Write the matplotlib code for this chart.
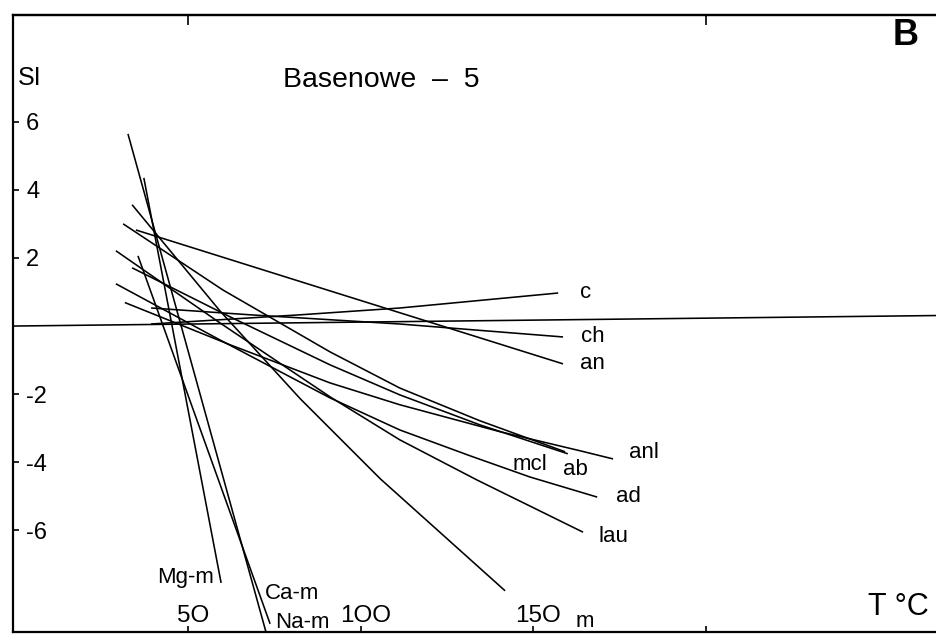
import matplotlib
matplotlib.use('Agg')
import matplotlib.pyplot as plt
from matplotlib.transforms import ScaledTranslation

plt.rcParams['font.family'] = ['Liberation Sans', 'DejaVu Sans']

# ---- data (T in °C, SI) ----
c_T = [39.3, 82.5, 111.4, 157.3]
c_SI = [0.06, 0.33, 0.53, 0.97]

ch_T = [39.3, 68.0, 111.4, 158.7]
ch_SI = [0.53, 0.33, 0.06, -0.32]

an_T = [34.9, 90.3, 158.7]
an_SI = [2.82, 1.06, -1.11]

m_T = [33.8, 59.3, 82.5, 105.7, 141.9]
m_SI = [3.56, 0.44, -2.13, -4.48, -7.77]

mcl_T = [31.2, 60.1, 91.2, 111.4, 134.6, 159.3]
mcl_SI = [3.00, 1.06, -0.76, -1.82, -2.78, -3.69]

ab_T = [33.8, 62.2, 91.2, 111.4, 134.6, 160.1]
ab_SI = [1.71, 0.27, -1.14, -2.02, -2.90, -3.75]

anl_T = [31.7, 62.2, 91.2, 111.4, 140.4, 163.6, 173.2]
anl_SI = [0.69, -0.55, -1.67, -2.31, -3.10, -3.66, -3.90]

ad_T = [29.1, 59.3, 91.2, 111.4, 131.8, 149.1, 168.6]
ad_SI = [1.24, -0.41, -2.11, -3.05, -3.81, -4.43, -5.02]

lau_T = [29.1, 59.3, 91.2, 111.4, 133.8, 164.5]
lau_SI = [2.21, 0.09, -2.08, -3.34, -4.52, -6.05]

mgm_T = [37.2, 59.6]
mgm_SI = [4.35, -7.54]

nam_T = [32.6, 72.6]
nam_SI = [5.64, -8.98]

cam_T = [35.5, 73.8]
cam_SI = [2.06, -8.74]

zero_T = [-1.0, 268.0]
zero_SI = [0.0, 0.31]

yticks = [6, 4, 2, -2, -4, -6]
ytick_labels = ['6', '4', '2', '-2', '-4', '-6']
xticks = [50, 100, 150, 200]
xtick_labels = ['5O', '1OO', '15O', '']

curves = [
    (c_T, c_SI), (ch_T, ch_SI), (an_T, an_SI), (m_T, m_SI),
    (mcl_T, mcl_SI), (ab_T, ab_SI), (anl_T, anl_SI), (ad_T, ad_SI),
    (lau_T, lau_SI), (mgm_T, mgm_SI), (nam_T, nam_SI), (cam_T, cam_SI),
    (zero_T, zero_SI),
]

# ---- figure ----
W, H = 936, 634
fig = plt.figure(figsize=(W / 100, H / 100), dpi=100)
ax = fig.add_axes([13 / W, 2 / H, 1 - 13 / W, (632 - 15) / H])
ax.set_xlim(-0.72, 266.8)
ax.set_ylim(-8.98, 9.13)

for t, s in curves:
    ax.plot(t, s, color='black', lw=1.15, solid_capstyle='butt',
            solid_joinstyle='round')

for sp in ['left', 'top', 'bottom']:
    ax.spines[sp].set_linewidth(1.6)
ax.spines['right'].set_visible(False)

ax.set_yticks(yticks)
ax.set_yticklabels(ytick_labels)
ax.tick_params(axis='y', direction='in', length=4, width=1.2, pad=-9.5,
               labelsize=17)
for lb in ax.get_yticklabels():
    lb.set_horizontalalignment('left')

ax.set_xticks(xticks)
ax.set_xticklabels(xtick_labels)
ax.tick_params(axis='x', direction='in', length=4, width=1.2, pad=-7.2,
               labelsize=17.5)
shift = ScaledTranslation(5 / 100, 0, fig.dpi_scale_trans)
for lb in ax.get_xticklabels():
    lb.set_verticalalignment('baseline')
    lb.set_transform(lb.get_transform() + shift)

sec = ax.secondary_xaxis('top')
sec.set_xticks([50, 200])
sec.tick_params(direction='in', length=7, width=1.2, labeltop=False)
sec.spines['top'].set_linewidth(1.6)

# ---- curve labels ----
fs = 16
labels = [
    ('c', 163.6, 0.83), ('ch', 163.9, -0.46), ('an', 163.6, -1.26),
    ('anl', 177.8, -3.87), ('mcl', 144.2, -4.23), ('ab', 158.7, -4.38),
    ('ad', 174.1, -5.17), ('lau', 169.1, -6.33), ('m', 162.2, -8.83),
    ('Mg-m', 41.0, -7.54), ('Ca-m', 72.3, -8.0), ('Na-m', 75.2, -8.86),
]
for txt, x, y in labels:
    ax.text(x, y, txt, fontsize=fs, ha='left', va='baseline')

ax.text(0.7, 7.08, 'SI', fontsize=18, ha='left', va='baseline')
ax.text(77.5, 7.02, 'Basenowe  –  5', fontsize=20.5, ha='left',
        va='baseline')
ax.text(254.3, 8.25, 'B', fontsize=26, fontweight='bold', ha='left',
        va='baseline')
ax.text(247.1, -8.47, 'T °C', fontsize=22, ha='left', va='baseline')

fig.savefig('out.png', dpi=100, facecolor='white')
